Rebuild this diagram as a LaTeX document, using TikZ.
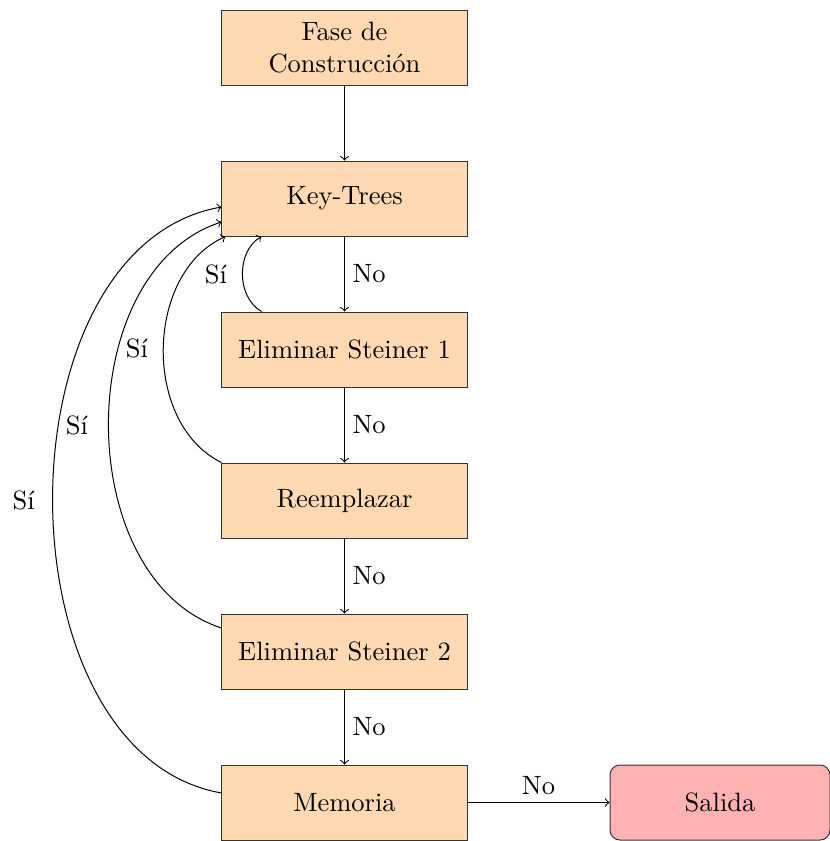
\documentclass[tikz,border=0pt]{standalone}
\usetikzlibrary{arrows}
\begin{document}
\begin{tikzpicture}[x=0.4pt,y=-0.4pt,
  font=\fontsize{10.6pt}{12.8pt}\selectfont,
  stepbox/.style={draw=black!80, fill=orange!30, minimum width=98pt, minimum height=30pt, align=center, inner sep=0pt},
  outbox/.style={draw=black!80, fill=red!30, rounded corners=4pt, minimum width=88pt, minimum height=30pt, inner sep=0pt},
  flow/.style={->, >=to},
  lbl/.style={inner sep=3pt}]
\useasboundingbox (0,0) rectangle (830,841);

\node[stepbox] (fase) at (344.5,47.5) {Fase de\\Construcción};
\node[stepbox] (kt) at (344.5,198.5) {Key-Trees};
\node[stepbox] (e1) at (344.5,349.5) {Eliminar Steiner 1};
\node[stepbox] (re) at (344.5,500.5) {Reemplazar};
\node[stepbox] (e2) at (344.5,651.5) {Eliminar Steiner 2};
\node[stepbox] (mem) at (344.5,802.5) {Memoria};
\node[outbox] (sal) at (720,802.5) {Salida};

\draw[flow] (fase) -- (kt);
\draw[flow] (kt) -- node[right,lbl] {No} (e1);
\draw[flow] (e1) -- node[right,lbl] {No} (re);
\draw[flow] (re) -- node[right,lbl] {No} (e2);
\draw[flow] (e2) -- node[right,lbl] {No} (mem);
\draw[flow] (mem) -- node[above,lbl] {No} (sal);

% end points of the feedback arcs
\coordinate (e1a) at ([xshift=40*0.4pt]e1.north west);
\coordinate (kta) at ([xshift=40*0.4pt]kt.south west);
\coordinate (ktb) at ([xshift=4*0.4pt]kt.south west);
\coordinate (ktc) at ([yshift=-23.5*0.4pt]kt.west);
\coordinate (ktd) at ([yshift=-8.5*0.4pt]kt.west);
\coordinate (mema) at ([yshift=9.5*0.4pt]mem.west);
\coordinate (e2a) at ([yshift=23.5*0.4pt]e2.west);

\draw[flow] (e1a) to[bend left=60] node[left,lbl,pos=0.5,xshift=-3pt] {Sí} (kta);
\draw[flow] (re.north west) to[bend left=65] node[left,lbl,pos=0.5,xshift=-3pt] {Sí} (ktb);
\draw[flow] (e2a) to[bend left=72] node[left,lbl,pos=0.5,xshift=-5pt] {Sí} (ktc);
\draw[flow] (mema) to[bend left=80] node[left,lbl,pos=0.5,xshift=-4pt] {Sí} (ktd);
\end{tikzpicture}
\end{document}
